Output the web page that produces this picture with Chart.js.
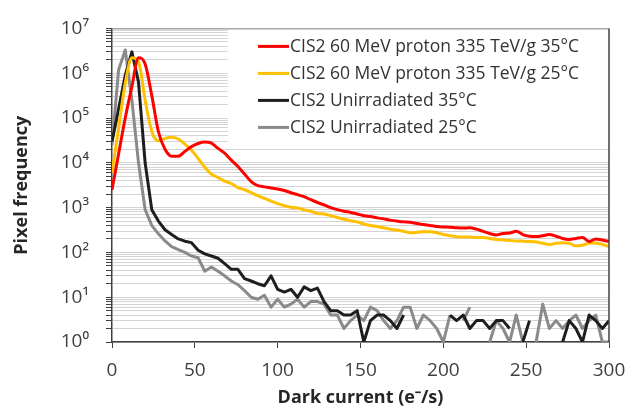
<!DOCTYPE html>
<html>
<head>
<meta charset="utf-8">
<script src="https://cdn.jsdelivr.net/npm/chart.js@4/dist/chart.umd.min.js"></script>
<style>
  html, body { margin: 0; padding: 0; background: #fff; }
  #grafico { display: block; }
</style>
</head>
<body>
<canvas id="grafico" width="643" height="413"></canvas>
<script>
// Dark current (e-/s), bins of 4
var darkCurrent = [0, 4, 8, 12, 16, 20, 24, 28, 32, 36, 40, 44, 48, 52, 56, 60, 64, 68, 72, 76,
  80, 84, 88, 92, 96, 100, 104, 108, 112, 116, 120, 124, 128, 132, 136, 140, 144, 148, 152, 156,
  160, 164, 168, 172, 176, 180, 184, 188, 192, 196, 200, 204, 208, 212, 216, 220, 224, 228, 232, 236,
  240, 244, 248, 252, 256, 260, 264, 268, 272, 276, 280, 284, 288, 292, 296, 300];

// CIS2 60 MeV proton 335 TeV/g 35°C
var irr35 = [2500, 16000, 100000, 500000, 2200000, 1600000, 320000, 50000, 20000, 14000, 14000, 18000, 23000, 27000, 29000, 27500, 21000, 16500, 11500, 8300,
  5600, 3800, 3100, 2900, 2750, 2600, 2400, 2150, 1950, 1750, 1500, 1300, 1150, 1000, 900, 830, 780, 720, 660, 630,
  590, 560, 525, 500, 480, 470, 440, 420, 400, 380, 370, 365, 355, 350, 355, 330, 295, 265, 245, 265,
  270, 295, 250, 230, 225, 235, 250, 230, 205, 195, 205, 215, 175, 200, 190, 175];

// CIS2 60 MeV proton 335 TeV/g 25°C
var irr25 = [6000, 60000, 600000, 2200000, 1800000, 250000, 50000, 31000, 35000, 37000, 34000, 26000, 19000, 12500, 8000, 5600, 4700, 3900, 3450, 2800,
  2500, 2150, 1850, 1600, 1400, 1230, 1100, 1020, 980, 890, 830, 740, 720, 660, 600, 550, 510, 480, 430, 400,
  380, 355, 330, 315, 295, 275, 280, 290, 290, 275, 250, 235, 225, 220, 220, 215, 215, 205, 195, 190,
  185, 180, 178, 175, 170, 160, 150, 160, 165, 160, 140, 145, 160, 162, 150, 135];

// CIS2 Unirradiated 35°C
var unirr35 = [30000, 160000, 900000, 3000000, 630000, 10000, 900, 500, 320, 250, 200, 178, 165, 112, 93, 83, 74, 56, 42, 42,
  26, 23, 20, 18, 30, 15, 13, 15, 10, 17, 14, 16, 8, 5, 5, 4, 4, 5, 1, 3,
  4, 4, 3, 2, 4, null, null, null, null, null, null, 4, 3, 4, 2, 3, 3, 2, 3, 3,
  2, null, 1, 3, null, null, null, null, 1, 3, 2, 1, 4, 3, 2, 3];

// CIS2 Unirradiated 25°C
var unirr25 = [25000, 1200000, 3300000, 250000, 10000, 900, 400, 260, 180, 135, 115, 100, 83, 76, 38, 47, 38, 30, 23, 19,
  14, 10, 9, 11, 6, 9, 6, 7, 9, 6, 8, 8, 7, 4, 4, 2, 3, 4, 3, 6,
  5, 3, 2, 3, 6, 6, 2, 4, 3, 2, 1, 4, null, 3, 6, null, null, 1, 3, 2,
  1, 4, 1, null, 1, 7, 2, 3, 2, 3, 4, 2, 3, 4, 1, 1];

var seriesNames = ['CIS2 60 MeV proton 335 TeV/g 35°C', 'CIS2 60 MeV proton 335 TeV/g 25°C',
  'CIS2 Unirradiated 35°C', 'CIS2 Unirradiated 25°C'];
var seriesColors = ['#ff0000', '#ffc000', '#1e1e1e', '#8a8a8a'];

var yLabels = ['10⁰', '10¹', '10²', '10³', '10⁴', '10⁵', '10⁶', '10⁷'];

function pontos(valores) {
  return valores.map(function (v, i) { return { x: darkCurrent[i], y: v }; });
}

// legend drawn inside the plot, on a white box
var caixaLegenda = {
  id: 'caixaLegenda',
  beforeDatasetsDraw: function (chart) {
    var ctx = chart.ctx, a = chart.chartArea;
    ctx.save();
    ctx.fillStyle = '#fff';
    ctx.fillRect(a.left + 116, a.top + 1, a.right - a.left - 116, 117);
    ctx.restore();
  },
  afterDatasetsDraw: function (chart) {
    var ctx = chart.ctx, a = chart.chartArea;
    ctx.save();
    // top and right frame
    ctx.strokeStyle = '#8c8c8c';
    ctx.lineWidth = 1;
    ctx.beginPath();
    ctx.moveTo(a.left, a.top + 0.5);
    ctx.lineTo(a.right, a.top + 0.5);
    ctx.stroke();
    ctx.strokeStyle = '#404040';
    ctx.lineWidth = 1.5;
    ctx.beginPath();
    ctx.moveTo(a.right, a.top);
    ctx.lineTo(a.right, a.bottom);
    ctx.stroke();

    ctx.font = '17.5px "Open Sans"';
    ctx.textBaseline = 'middle';
    ctx.fillStyle = '#333';
    chart.data.datasets.forEach(function (ds, i) {
      var y = a.top + 18 + i * 27;
      ctx.strokeStyle = ds.borderColor;
      ctx.lineWidth = 3;
      ctx.beginPath();
      ctx.moveTo(a.left + 146, y);
      ctx.lineTo(a.left + 177, y);
      ctx.stroke();
      ctx.fillText(ds.label, a.left + 178, y + 1);
    });
    ctx.restore();
  }
};

var datasets = [irr35, irr25, unirr35, unirr25].map(function (valores, i) {
  return {
    label: seriesNames[i],
    data: pontos(valores),
    borderColor: seriesColors[i],
    backgroundColor: seriesColors[i],
    borderWidth: 3,
    pointRadius: 0,
    borderJoinStyle: 'round',
    cubicInterpolationMode: i < 2 ? 'monotone' : 'default',
    tension: 0
  };
});

var ctx = document.getElementById('grafico').getContext('2d');
var grafico = new Chart(ctx, {
  type: 'line',
  data: { datasets: datasets },
  plugins: [caixaLegenda],
  options: {
    responsive: false,
    devicePixelRatio: 1,
    animation: false,
    layout: { padding: { top: 14, right: 34, left: 0, bottom: 0 } },
    plugins: {
      legend: { display: false },
      tooltip: { enabled: false }
    },
    scales: {
      x: {
        type: 'linear',
        min: 0,
        max: 300,
        afterFit: function (s) { s.height = 71; },
        ticks: { stepSize: 50, padding: 11, color: '#404040', font: { family: 'Open Sans', size: 19 } },
        grid: { drawOnChartArea: false, drawTicks: true, tickLength: 6, tickColor: '#404040' },
        border: { color: '#404040', width: 1.5 },
        title: {
          display: true,
          text: 'Dark current (e⁻/s)',
          color: '#262626',
          font: { family: 'Open Sans', size: 18, weight: 'bold' },
          padding: { top: 0, bottom: 4 }
        }
      },
      y: {
        type: 'logarithmic',
        min: 1,
        max: 10000000,
        afterFit: function (s) { s.width = 112; },
        afterBuildTicks: function (s) {
          var t = [];
          for (var d = 0; d < 7; d++) {
            for (var k = 1; k < 10; k++) t.push({ value: k * Math.pow(10, d) });
          }
          t.push({ value: 10000000 });
          s.ticks = t;
        },
        ticks: {
          autoSkip: false,
          padding: 17,
          color: '#404040',
          font: { family: 'Open Sans', size: 19 },
          callback: function (v) {
            var e = Math.round(Math.log10(v));
            return Math.abs(Math.log10(v) - e) < 1e-9 ? yLabels[e] : '';
          }
        },
        grid: { color: '#d4d4d4', lineWidth: 1, drawTicks: true, tickLength: 6, tickColor: '#404040' },
        border: { color: '#404040', width: 1.5 },
        title: {
          display: true,
          text: 'Pixel frequency',
          color: '#262626',
          font: { family: 'Open Sans', size: 18, weight: 'bold' },
          padding: { top: 11, bottom: 0 }
        }
      }
    }
  }
});
</script>
</body>
</html>
